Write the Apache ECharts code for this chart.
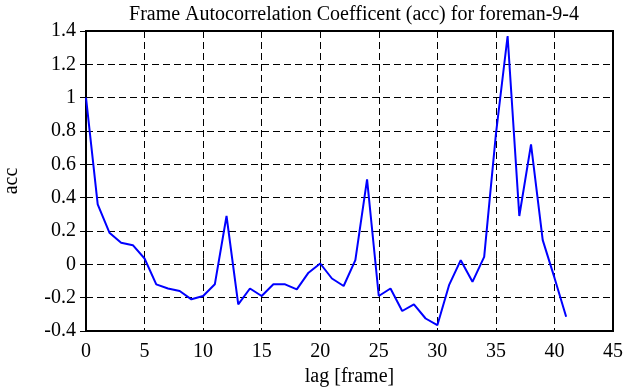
<!DOCTYPE html>
<html>
<head>
<meta charset="utf-8">
<script src="https://cdn.jsdelivr.net/npm/echarts@6/dist/echarts.min.js"></script>
<style>
  html, body { margin: 0; padding: 0; background: #fff; }
  #chart { width: 630px; height: 387px; }
</style>
</head>
<body>
<div id="chart"></div>
<script>
const title = 'Frame Autocorrelation Coefficent (acc) for foreman-9-4'
const xName = 'lag [frame]'
const yName = 'acc'
const lags = [0, 1, 2, 3, 4, 5, 6, 7, 8, 9, 10, 11, 12, 13, 14, 15, 16, 17, 18, 19, 20,
  21, 22, 23, 24, 25, 26, 27, 28, 29, 30, 31, 32, 33, 34, 35, 36, 37, 38, 39, 40, 41]
const acc = [1.0, 0.36, 0.19, 0.13, 0.115, 0.035, -0.12, -0.145, -0.16, -0.21, -0.19,
  -0.12, 0.29, -0.24, -0.145, -0.19, -0.12, -0.12, -0.15, -0.05, 0.005,
  -0.085, -0.13, 0.025, 0.51, -0.19, -0.145, -0.28, -0.24, -0.325, -0.365,
  -0.125, 0.025, -0.105, 0.045, 0.78, 1.37, 0.29, 0.72, 0.145, -0.08, -0.315]

const font = '"Liberation Serif", "DejaVu Serif", serif'
const chart = echarts.init(document.getElementById('chart'))

const dashed = { show: true, lineStyle: { color: '#000', width: 1, type: [7, 4] } }
const tick = { show: true, inside: true, length: 6, lineStyle: { color: '#000', width: 1 } }
const fmt = (v) => String(Math.round(v * 10) / 10)
const txt = { fontFamily: font, fontSize: 20, color: '#000' }

const option = {
  animation: false,
  title: {
    text: title,
    left: 349,
    textAlign: 'center',
    top: 0,
    textStyle: { ...txt, fontWeight: 'normal' }
  },
  grid: {
    left: 86, right: 17, top: 31, bottom: 56,
    outerBoundsMode: 'none',
    show: true, borderColor: '#000', borderWidth: 2, backgroundColor: 'transparent'
  },
  xAxis: [
    {
      type: 'value', min: 0, max: 45, interval: 5,
      name: xName, nameLocation: 'middle', nameGap: 33,
      nameTextStyle: txt,
      axisLine: { show: false },
      axisTick: tick,
      splitLine: dashed,
      axisLabel: { ...txt, margin: 11 }
    },
    {
      type: 'value', min: 0, max: 45, interval: 5, position: 'top',
      axisLine: { show: false }, axisTick: tick, axisLabel: { show: false }, splitLine: { show: false }
    }
  ],
  yAxis: [
    {
      type: 'value', min: -0.4, max: 1.4, interval: 0.2,
      name: yName, nameLocation: 'middle', nameGap: 64, nameRotate: 90,
      nameTextStyle: txt,
      axisLine: { show: false },
      axisTick: tick,
      splitLine: dashed,
      axisLabel: { ...txt, margin: 10, formatter: fmt }
    },
    {
      type: 'value', min: -0.4, max: 1.4, interval: 0.2, position: 'right',
      axisLine: { show: false }, axisTick: tick, axisLabel: { show: false }, splitLine: { show: false }
    }
  ],
  series: [
    {
      name: yName,
      type: 'line',
      data: lags.map((l, i) => [l, acc[i]]),
      symbol: 'none',
      lineStyle: { color: '#0000ff', width: 2 }
    }
  ]
}
chart.setOption(option)
</script>
</body>
</html>
